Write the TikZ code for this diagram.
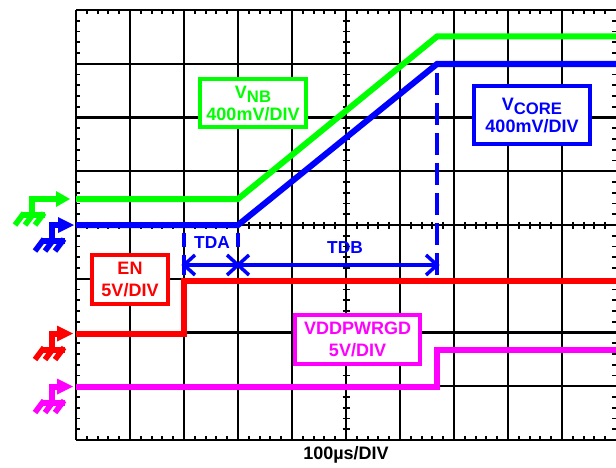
\documentclass[tikz,border=0pt]{standalone}
\usepackage{fontspec}
\setmainfont{Liberation Sans}
\usetikzlibrary{calc}
\definecolor{tgreen}{RGB}{0,255,0}
\definecolor{tblue}{RGB}{0,0,255}
\definecolor{tred}{RGB}{255,0,0}
\definecolor{tmag}{RGB}{255,0,255}
\newcommand\gndsym[5]{%
  \fill[#1] (#4,#3-8) -- (#5,#3) -- (#4,#3+8) -- cycle;
  \draw[#1,line width=4.5pt] (#2-3,#3) -- (#4+0.5,#3);
  \draw[#1,line width=4.5pt] (#2,#3) -- (#2,#3+18);
  \draw[#1,line width=4.5pt] (#2-11,#3+16) -- (#2+13,#3+16);
  \draw[#1,line width=4.2pt] (#2-8,#3+14) -- (#2-17,#3+26);
  \draw[#1,line width=4.2pt] (#2+2,#3+14) -- (#2-7,#3+26);
  \draw[#1,line width=4.2pt] (#2+12,#3+14) -- (#2+3,#3+26);
}
\begin{document}
\begin{tikzpicture}[x=0.75pt,y=-0.75pt,
  gridl/.style={line width=1.65pt,black},
  ticksty/.style={line width=1.4pt,black},
  trace/.style={line width=4.5pt,line join=miter},
  lbox/.style={draw=#1,text=#1,line width=3pt,fill=white,align=center,inner sep=0pt,
    font=\fontsize{13.5}{16.5}\selectfont\bfseries},
  tdlab/.style={text=tblue,font=\fontsize{13}{15}\selectfont\bfseries,inner sep=0pt},
  tmark/.style={tblue,line width=2.6pt}]
\useasboundingbox (0,0) rectangle (616,467);
% grid
\foreach \i in {0,...,9} \draw[gridl] ({76+54*\i},10) -- ({76+54*\i},440);
\foreach \j in {0,...,8} \draw[gridl] (76,{10+53.75*\j}) -- (617,{10+53.75*\j});
% ticks
\foreach \k in {1,...,49} {
  \draw[ticksty] ({76+10.8*\k},10) -- ++(0,4);
  \draw[ticksty] ({76+10.8*\k},440) -- ++(0,-4);
  \draw[ticksty] ({76+10.8*\k},221.5) -- ++(0,7);
}
\foreach \k in {1,...,39} {
  \draw[ticksty] (76,{10+10.75*\k}) -- ++(4,0);
  \draw[ticksty] (616,{10+10.75*\k}) -- ++(-4,0);
  \draw[ticksty] (342.5,{10+10.75*\k}) -- ++(7,0);
}
% traces
\draw[trace,tgreen] (76,199) -- (238,199) -- (437,36.5) -- (617,36.5);
\draw[trace,tblue] (76,225) -- (238,225) -- (437,64) -- (617,64);
\draw[trace,tred] (76,333.5) -- (184,333.5) -- (184,281) -- (617,281);
\draw[trace,tmag] (76,386.5) -- (437,386.5) -- (437,349.5) -- (617,349.5);
% timing markers
\coordinate (ta) at (184,265);
\coordinate (tb) at (238,265);
\coordinate (tc) at (437,265);
\draw[tmark,dash pattern=on 16.5pt off 6pt] (437,73) -- (437,275);
\draw[tmark] (184,233) -- (184,247);
\draw[tmark] (184,255) -- (184,275);
\draw[tmark] (238,233) -- (238,247);
\draw[tmark] (ta) -- (tc);
\draw[tmark] ($(ta)+(11,-10)$) -- (ta) -- ($(ta)+(11,10)$);
\draw[tmark] ($(tb)+(-11,-10)$) -- (tb) -- ($(tb)+(-11,10)$);
\draw[tmark] ($(tb)+(11,-10)$) -- (tb) -- ($(tb)+(11,10)$);
\draw[tmark] ($(tc)+(-11,-10)$) -- (tc) -- ($(tc)+(-11,10)$);
\node[tdlab] (tda) at (212,242.5) {TDA};
\node[tdlab] (tdb) at (345,247.5) {TDB};
% label boxes
\node[lbox=tgreen,minimum width=79.5pt,minimum height=36pt] (vnb) at (253,103)
  {V\raisebox{-3.5pt}{\fontsize{12.5}{12.5}\selectfont NB}\\400mV/DIV};
\node[lbox=tblue,minimum width=87pt,minimum height=43.5pt] (vcore) at (532,115)
  {V\raisebox{-3.5pt}{\fontsize{12.5}{12.5}\selectfont CORE}\\400mV/DIV};
\node[lbox=tred,minimum width=57pt,minimum height=36.75pt] (en) at (130,279.5)
  {EN\\5V/DIV};
\node[lbox=tmag,minimum width=93.75pt,minimum height=36.75pt] (pg) at (357.5,339.5)
  {VDDPWRGD\\5V/DIV};
\node[font=\fontsize{13.5}{16}\selectfont\bfseries,inner sep=0pt] (xl) at (346,455) {100µs/DIV};
% ground reference symbols
\gndsym{tgreen}{32}{199}{56}{70}
\gndsym{tblue}{52}{225}{58}{74}
\gndsym{tred}{52}{333.5}{57}{73}
\gndsym{tmag}{52}{386.5}{57}{73}
\end{tikzpicture}
\end{document}
